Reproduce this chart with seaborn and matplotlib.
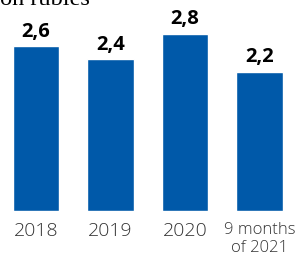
import matplotlib
matplotlib.use('Agg')
import pandas as pd
import seaborn as sns
import matplotlib.pyplot as plt

# chart data
periods = ['2018', '2019', '2020', '9 months\nof 2021']
values = [2.6, 2.4, 2.8, 2.2]
value_labels = ['2,6', '2,4', '2,8', '2,2']

df = pd.DataFrame({'period': periods, 'value': values})

sns.set_style('white')
plt.rcParams['font.family'] = ['Open Sans', 'DejaVu Sans']

fig = plt.figure(figsize=(2.97, 2.57), dpi=100)
ax = fig.add_axes([0, 46 / 257, 1, 211 / 257])

sns.barplot(data=df, x='period', y='value', color='#0059A9', saturation=1,
            width=0.62, ax=ax)

ax.set_xlim(-0.483, 3.503)
ax.set_ylim(0, 3.33)

for i, (v, lab) in enumerate(zip(values, value_labels)):
    ax.annotate(lab, (i, v), xytext=(0, 3), textcoords='offset points',
                ha='center', va='bottom', fontsize=14.5, fontweight='bold',
                color='black')

ax.set_xticks(range(len(periods)))
ax.set_xticklabels(periods)
for i, t in enumerate(ax.get_xticklabels()):
    t.set_color('#333333')
    t.set_fontweight('light')
    if i == 3:
        t.set_fontsize(12)
        t.set_linespacing(1.15)
    else:
        t.set_fontsize(14)
ax.tick_params(axis='x', length=0, pad=8)
ax.set_yticks([])
ax.set_xlabel('')
ax.set_ylabel('')
sns.despine(left=True, bottom=True)

# cut-off unit caption at the top
fig.text(90 / 297, 1 - 5 / 257, 'billion rubles', ha='right', va='baseline',
         fontsize=17.5, family='Liberation Serif', color='black')

fig.savefig('out.png', dpi=100)
